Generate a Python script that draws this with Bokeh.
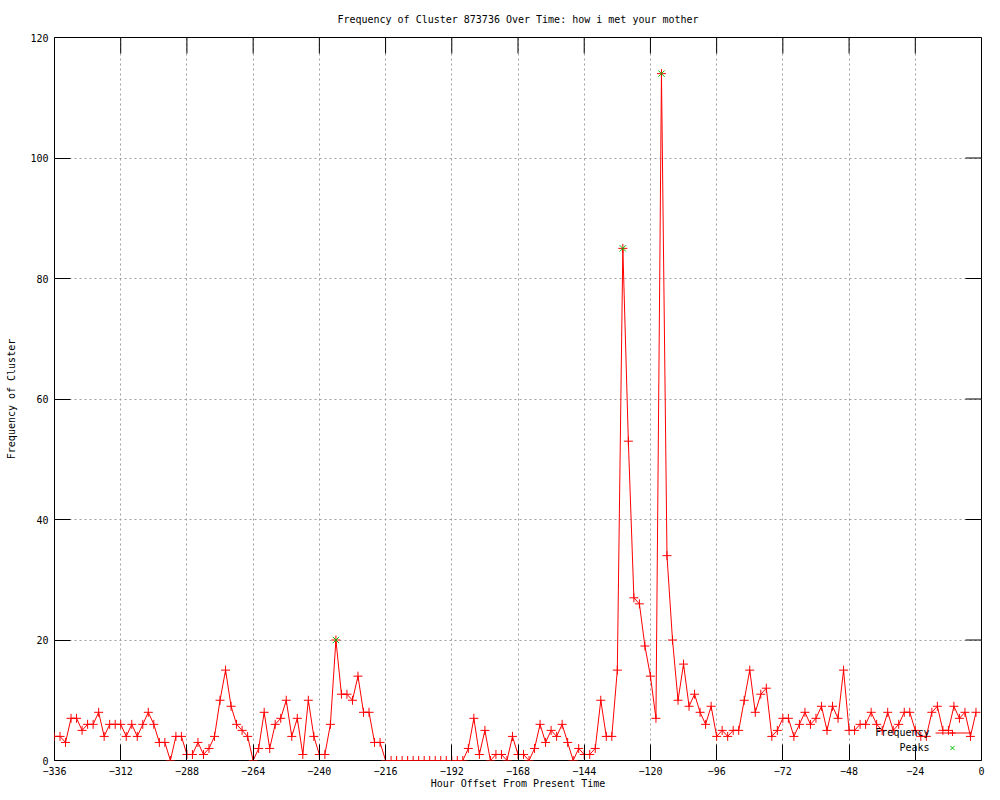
import math
from bokeh.plotting import figure
from bokeh.models import (LinearAxis, FixedTicker, Legend, LegendItem, Label,
                          Range1d, ColumnDataSource)
from bokeh.embed import file_html
from bokeh.resources import INLINE

# ---------------- data ----------------
hours = list(range(-336, 0, 2))
frequency = [
    4, 4, 3, 7, 7, 5, 6, 6, 8, 4,
    6, 6, 6, 4, 6, 4, 6, 8, 6, 3,
    3, 0, 4, 4, 1, 1, 3, 1, 2, 4,
    10, 15, 9, 6, 5, 4, 0, 2, 8, 2,
    6, 7, 10, 4, 7, 1, 10, 4, 1, 1,
    6, 20, 11, 11, 10, 14, 8, 8, 3, 3,
    0, 0, 0, 0, 0, 0, 0, 0, 0, 0, 0, 0, 0, 0, 0,
    2, 7, 1, 5, 0, 1, 1, 0, 4, 1,
    1, 0, 2, 6, 3, 5, 4, 6, 3,
    0, 2, 1, 1, 2, 10, 4, 4, 15, 85,
    53, 27, 26, 19, 14, 7, 114, 34, 20,
    10, 16, 9, 11, 8, 6, 9, 4, 5, 4,
    5, 5, 10, 15, 8, 11, 12, 4, 5,
    7, 7, 4, 6, 8, 6, 7, 9, 5, 9,
    7, 15, 5, 5, 6, 6, 8, 6,
    5, 8, 5, 6, 8, 8, 5, 4, 4,
    8, 9, 5, 5, 9, 7, 8, 4, 8,
]
peak_hours = [-234, -130, -116]
peak_values = [20, 85, 114]

x_ticks = [-336, -312, -288, -264, -240, -216, -192, -168, -144, -120, -96, -72, -48, -24, 0]
y_ticks = [0, 20, 40, 60, 80, 100, 120]
x_min, x_max = -336, 0
y_min, y_max = 0, 120

title_text = "Frequency of Cluster 873736 Over Time: how i met your mother"
x_label = "Hour Offset From Present Time"
y_label = "Frequency of Cluster"

FONT = "DejaVu Sans Mono"
FS = "10px"
RED = "#ff0000"
GREEN = "#00c000"
TICK = 16

# ---------------- figure ----------------
p = figure(width=992, height=792, output_backend="svg", toolbar_location=None,
           x_range=Range1d(x_min, x_max), y_range=Range1d(y_min, y_max),
           min_border_left=54, min_border_right=11,
           min_border_top=37, min_border_bottom=32,
           x_axis_location=None, y_axis_location=None)
p.background_fill_color = "white"
p.border_fill_color = "white"
p.outline_line_color = "black"
p.outline_line_width = 1


def style_axis(ax):
    ax.axis_line_color = None
    ax.major_tick_in = TICK
    ax.major_tick_out = 0
    ax.major_tick_line_color = "black"
    ax.minor_tick_line_color = None
    ax.major_label_text_font = FONT
    ax.major_label_text_font_size = FS
    ax.major_label_text_color = "black"
    ax.axis_label_text_font = FONT
    ax.axis_label_text_font_size = FS
    ax.axis_label_text_font_style = "normal"
    ax.axis_label_text_color = "black"


xt = FixedTicker(ticks=x_ticks)
yt = FixedTicker(ticks=y_ticks)

xb = LinearAxis(ticker=xt, axis_label=x_label)
style_axis(xb)
xb.major_label_standoff = 6
xb.axis_label_standoff = 0
p.add_layout(xb, "below")

yl = LinearAxis(ticker=yt, axis_label=y_label)
style_axis(yl)
yl.major_label_standoff = 6
yl.axis_label_standoff = 10
p.add_layout(yl, "left")

# the chart title, carried by a tick-less axis above the frame
ttl = LinearAxis(ticker=FixedTicker(ticks=[], minor_ticks=[]), axis_label=title_text)
style_axis(ttl)
ttl.major_tick_in = 0
ttl.major_tick_line_color = None
ttl.major_label_standoff = 0
ttl.axis_label_standoff = 13
p.add_layout(ttl, "above")

p.xgrid.ticker = xt
p.ygrid.ticker = yt
for g in (p.xgrid, p.ygrid):
    g.grid_line_color = "#a0a0a0"
    g.grid_line_dash = "2 3"
    g.grid_line_width = 1

# mirrored ticks on the top and right borders (gnuplot style)
p.ray(x=x_ticks, y=[y_max] * len(x_ticks), length=TICK, length_units="screen",
      angle=-math.pi / 2, line_color="black", line_width=1)
p.ray(x=[x_max] * len(y_ticks), y=y_ticks, length=TICK, length_units="screen",
      angle=math.pi, line_color="black", line_width=1)

# ---------------- data glyphs ----------------
src = ColumnDataSource(dict(x=hours, y=frequency))
psrc = ColumnDataSource(dict(x=peak_hours, y=peak_values))

r_line = p.line("x", "y", source=src, line_color=RED, line_width=1)
r_pts = p.scatter("x", "y", source=src, marker="cross", size=9,
                  line_color=RED, line_width=1)
r_peaks = p.scatter("x", "y", source=psrc, marker="x", size=9,
                    line_color=GREEN, line_width=1)

# ---------------- legend (gnuplot style: text left, sample right) ----------------
legend = Legend(items=[LegendItem(label=" ", renderers=[r_line, r_pts]),
                       LegendItem(label=" ", renderers=[r_peaks])],
                location=(881, 5), orientation="vertical",
                padding=0, margin=0, spacing=0,
                glyph_width=34, glyph_height=15,
                label_width=0, label_height=15, label_standoff=0,
                label_text_font=FONT, label_text_font_size=FS,
                background_fill_alpha=0, border_line_alpha=0)
p.add_layout(legend, "center")

for txt, yy in (("Frequency", 28), ("Peaks", 13)):
    p.add_layout(Label(x=875, y=yy, x_units="screen", y_units="screen",
                       text=txt, text_align="right", text_baseline="middle",
                       text_font=FONT, text_font_size=FS, text_color="black"))

open("out.html", "w").write(file_html(p, INLINE))
